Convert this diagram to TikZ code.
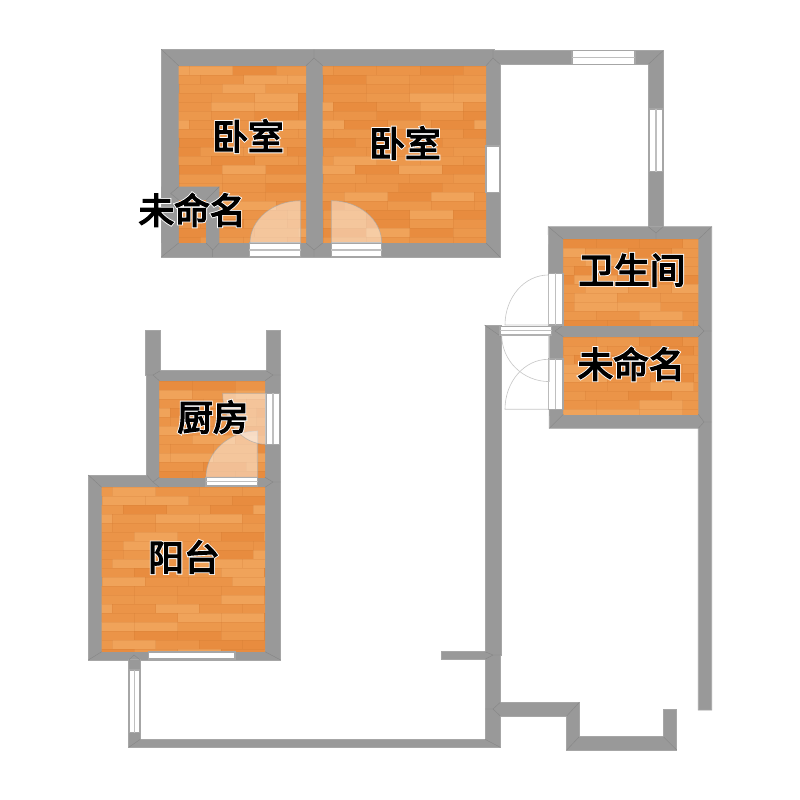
\documentclass[tikz,border=0pt]{standalone}
\usepackage{fontspec}
\newfontfamily\cjk[FakeBold=4]{Noto Sans CJK SC}
\newfontfamily\cjkhalo[FakeBold=9]{Noto Sans CJK SC}
\definecolor{wallgray}{HTML}{999999}
\definecolor{walledge}{HTML}{A6A6A6}
\definecolor{mitre}{HTML}{868686}
\definecolor{wooda}{HTML}{E88C3F}
\definecolor{woodb}{HTML}{EB9448}
\definecolor{woodc}{HTML}{EC984C}
\definecolor{woodd}{HTML}{F0A35A}
\definecolor{woodseam}{HTML}{C9742E}
\tikzset{
  wallshape/.style={fill=wallgray,draw=walledge,line width=0.4pt},
  mitreline/.style={draw=mitre,line width=0.25pt},
  glass/.style={fill=white,draw=walledge,line width=0.6pt},
  glassbar/.style={draw=black!25,line width=0.6pt},
  doorleaf/.style={fill=white,fill opacity=0.45,draw=black!35,draw opacity=0.7,line width=0.35pt},
  doorswing/.style={draw=black!22,line width=0.35pt},
  roomlabel/.style={inner sep=0pt,font=\fontsize{20.3}{23}\selectfont}
}
\newcommand{\woodfloor}[5]{%
  \begin{scope}
    \clip (#1,#2) rectangle (#3,#4);
    \fill[woodb] (#1,#2) rectangle (#3,#4);
    \pgfmathsetseed{#5}
    \foreach \r in {0,...,22}{%
      \pgfmathsetmacro{\yy}{#2+\r*9}
      \pgfmathrandominteger{\off}{0}{3}
      \foreach \c in {0,...,5}{%
        \pgfmathsetmacro{\xx}{#1-\off*11+\c*43.4}
        \pgfmathrandominteger{\tone}{1}{4}
        \ifcase\tone\or\def\tname{wooda}\or\def\tname{woodb}\or\def\tname{woodc}\or\def\tname{woodd}\fi
        \fill[\tname] (\xx,\yy) rectangle ++(43.6,9.1);
        \draw[woodseam,line width=0.1pt,opacity=0.2] (\xx,\yy) -- ++(0,9);
      }
      \draw[woodseam,line width=0.1pt,opacity=0.2] (#1,\yy) -- (#3,\yy);
    }
  \end{scope}
}
\newcommand{\doorpath}[5][doorleaf]{%
  \draw[#1,shift={(#2,#3)}] (#4,0) .. controls (#4,0.5523*#5) and (0.5523*#4,#5) .. (0,#5) -- (0,0) -- cycle;
}
\newcommand{\halotext}[1]{\makebox[0pt][l]{\color{white}\cjkhalo #1}{\color{black}\cjk #1}}
\begin{document}
\begin{tikzpicture}[x=0.02cm,y=-0.02cm]
\useasboundingbox (0,0) rectangle (800,800);
\fill[white] (0,0) rectangle (800,800);

% walls
\path[wallshape] (161.3,49.3) -- (494,49.3) -- (494,50.7) -- (663,50.7) -- (663,226.7) -- (648.3,226.7) -- (648.3,64.3) -- (500,64.3) -- (500,257) -- (161.3,257) -- cycle;
\path[wallshape] (548.3,226.7) -- (711.7,226.7) -- (711.7,710) -- (698.3,710) -- (698.3,428.3) -- (549.3,428.3) -- cycle;
\path[wallshape] (145.3,330) -- (160.3,330) -- (160.3,370.7) -- (266,370.7) -- (266,330) -- (280.7,330) -- (280.7,660) -- (88.3,660) -- (88.3,475) -- (146.7,475) -- (146.7,375) -- (145.3,375) -- cycle;
\path[wallshape] (485,325) -- (501.7,325) -- (501.7,655) -- (500.3,655) -- (500.3,702.3) -- (579.3,702.3) -- (579.3,736.7) -- (663.3,736.7) -- (663.3,709.3) -- (676.7,709.3) -- (676.7,750) -- (566.7,750) -- (566.7,716) -- (500.3,716) -- (500.3,747.3) -- (128.7,747.3) -- (128.7,659) -- (140.3,659) -- (140.3,739.3) -- (485,739.3) -- (485,659.3) -- (441.7,659.3) -- (441.7,651.7) -- (485,651.7) -- cycle;

% floors
\woodfloor{178.7}{65.7}{306}{243}{11}
\woodfloor{322.7}{65.7}{486}{243}{23}
\woodfloor{563.3}{239.3}{698.3}{325}{37}
\woodfloor{563.3}{336.7}{698.3}{414.3}{41}
\woodfloor{159.3}{380.7}{265}{477.3}{53}
\woodfloor{101.7}{487.3}{265}{651.7}{67}

% closet wall inside the first bedroom
\path[wallshape,draw=none] (161.3,186.7) -- (219.3,186.7) -- (219.3,243) -- (206,243) -- (206,200) -- (178.7,200) -- (178.7,243) -- (161.3,243) -- cycle;

% mitre lines
\path[mitreline]
  (161.3,49.3) -- (178.7,65.7) (161.3,257) -- (178.7,243)
  (314,49.3) -- (314,58) -- (306,65.7) (314,58) -- (322.7,65.7)
  (306,243) -- (314,250) -- (322.7,243) (314,250) -- (314,257)
  (493,50) -- (493,58) -- (486,65.7) (493,58) -- (500,64.3)
  (663,50.7) -- (648.3,64.3) (500,257) -- (486,243)
  (178.7,186.7) -- (170.7,193.5) -- (178.7,200) (219.3,186.7) -- (206,200)
  (206,243) -- (212.7,250) -- (219.3,243) (212.7,250) -- (212.7,257)
  (548.3,226.7) -- (563.3,239.3) (711.7,226.7) -- (698.3,239.3)
  (648.3,226.7) -- (656,233) -- (663,226.7) (656,233) -- (656,239.3)
  (563.3,325) -- (555,331) -- (563.3,336.7)
  (698.3,325) -- (704,331) -- (698.3,336.7) (704,331) -- (711.7,331)
  (549.3,428.3) -- (563.3,414.3)
  (698.3,414.3) -- (704,422) -- (698.3,428.3) (704,422) -- (711.7,422)
  (484.5,325) -- (501.7,337)
  (159.3,380.7) -- (153,375) -- (160.3,370.7) (153,375) -- (146.7,375)
  (265,380.7) -- (273,375) -- (266,370.7) (273,375) -- (280.7,375)
  (88.3,475) -- (101.7,487.3)
  (159.3,477.3) -- (153,482) -- (159.3,487.3) (146.7,475) -- (153,482)
  (265,477.3) -- (273,482) -- (265,487.3) (273,482) -- (280.7,482)
  (88.3,660) -- (101.7,651.7) (280.7,660) -- (265,651.7)
  (128.7,660) -- (134,655) -- (140.3,660)
  (128.7,747.3) -- (140.3,739.3)
  (485,739.3) -- (500.3,747.3)
  (485,709) -- (493,709) -- (500.3,702.3) (493,709) -- (500.3,716)
  (579.3,702.3) -- (566.7,716) (566.7,750) -- (579.3,736.7) (676.7,750) -- (663.3,736.7)
  (485,651.7) -- (493,655) -- (485,659.3) (493,655) -- (501.7,655);

% windows and door frames
\foreach \xa/\ya/\xb/\yb in {486/146/500/192.7,148.3/652/235/659}
  \path[glass] (\xa,\ya) rectangle (\xb,\yb);
\foreach \xa/\ya/\xb/\yb in {572/50.7/635/64.3,249.3/243/300.7/257,331.3/243/381.7/257,500/326.7/551.7/335,206/477.3/257.7/486}{
  \path[glass] (\xa,\ya) rectangle (\xb,\yb);
  \draw[glassbar] (\xa,{(\ya+\yb)/2}) -- (\xb,{(\ya+\yb)/2});
}
\foreach \xa/\ya/\xb/\yb in {649/109/663/171.7,548.3/273.3/563/325,548.3/359/563/409.3,266/393.3/280/444.3,129/670/140/732.7}{
  \path[glass] (\xa,\ya) rectangle (\xb,\yb);
  \draw[glassbar] ({(\xa+\xb)/2},\ya) -- ({(\xa+\xb)/2},\yb);
}

% door leaves
\doorpath{300.7}{243}{-50.7}{-42.3}
\doorpath{331.3}{243}{50.4}{-42.3}
\doorpath{257.7}{477.3}{-51.7}{-46.3}
\doorpath{266}{393.3}{-43.3}{51}
\doorpath[doorswing]{548.3}{325}{-43.3}{-50}
\doorpath[doorswing]{548.3}{409.3}{-43.3}{-50}
\doorpath[doorswing]{549.3}{335}{-47.6}{46.6}

% labels
\node[roomlabel] (bedrooma) at (248,136) {\halotext{卧室}};
\node[roomlabel] (bedroomb) at (405,143) {\halotext{卧室}};
\node[roomlabel] (closet) at (192,210) {\halotext{未命名}};
\node[roomlabel] (bath) at (632,270) {\halotext{卫生间}};
\node[roomlabel] (unnamed) at (631,364) {\halotext{未命名}};
\node[roomlabel] (kitchen) at (213,417) {\halotext{厨房}};
\node[roomlabel] (balcony) at (184,557) {\halotext{阳台}};
\end{tikzpicture}
\end{document}
